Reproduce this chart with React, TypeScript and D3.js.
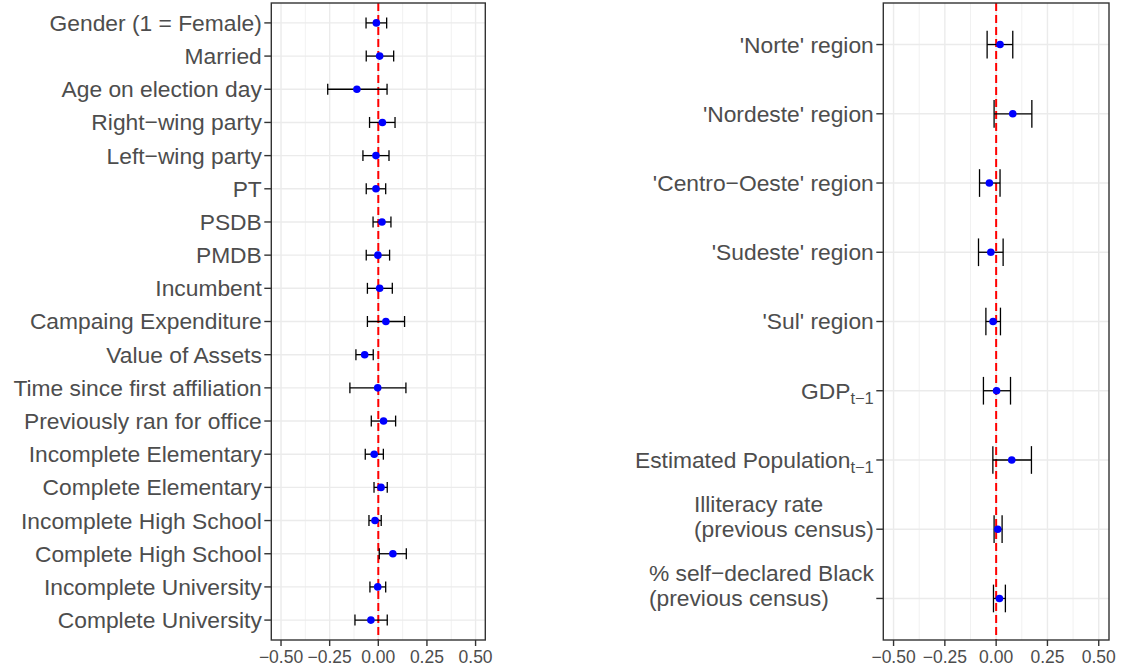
import React, { useRef, useEffect } from "react";
import * as d3 from "d3";

// ---------- data ----------
const leftLabels = [
  "Gender (1 = Female)",
  "Married",
  "Age on election day",
  "Right−wing party",
  "Left−wing party",
  "PT",
  "PSDB",
  "PMDB",
  "Incumbent",
  "Campaing Expenditure",
  "Value of Assets",
  "Time since first affiliation",
  "Previously ran for office",
  "Incomplete Elementary",
  "Complete Elementary",
  "Incomplete High School",
  "Complete High School",
  "Incomplete University",
  "Complete University",
];
const leftEst = [-0.01, 0.007, -0.11, 0.021, -0.012, -0.012, 0.019, -0.002, 0.007, 0.039, -0.07, -0.003, 0.027, -0.021, 0.014, -0.017, 0.075, -0.003, -0.038];
const leftLow = [-0.063, -0.062, -0.26, -0.045, -0.079, -0.062, -0.027, -0.062, -0.056, -0.056, -0.115, -0.146, -0.036, -0.067, -0.022, -0.048, 0.005, -0.043, -0.12];
const leftHigh = [0.043, 0.079, 0.045, 0.086, 0.055, 0.038, 0.065, 0.058, 0.072, 0.135, -0.026, 0.142, 0.089, 0.026, 0.046, 0.015, 0.144, 0.038, 0.046];

const rightLabels = [
  "'Norte' region",
  "'Nordeste' region",
  "'Centro−Oeste' region",
  "'Sudeste' region",
  "'Sul' region",
  "GDP_{t−1}",
  "Estimated Population_{t−1}",
  "Illiteracy rate\n(previous census)",
  "% self−declared Black\n(previous census)",
];
const rightEst = [0.019, 0.081, -0.033, -0.026, -0.015, 0.002, 0.076, 0.008, 0.016];
const rightLow = [-0.044, -0.01, -0.081, -0.086, -0.05, -0.062, -0.016, -0.01, -0.013];
const rightHigh = [0.081, 0.174, 0.019, 0.034, 0.021, 0.07, 0.172, 0.029, 0.045];

const xTicks = [-0.5, -0.25, 0, 0.25, 0.5];
const xTickLabels = ["−0.50", "−0.25", "0.00", "0.25", "0.50"];
const xMinor = [-0.375, -0.125, 0.125, 0.375];

// ---------- drawing ----------
const FONT = "'Liberation Sans', Arial, Helvetica, sans-serif";
const W = 1122;
const H = 669;

function drawPanel(
  g: d3.Selection<SVGGElement, unknown, null, undefined>,
  opts: {
    x0: number; x1: number; y0: number; y1: number;
    labels: string[]; est: number[]; low: number[]; high: number[]; capFrac: number;
  }
) {
  const { x0, x1, y0, y1, labels, est, low, high, capFrac } = opts;
  const x = d3.scaleLinear().domain([-0.55, 0.55]).range([x0, x1]);
  const y = d3.scalePoint<string>().domain(labels).range([y0, y1]).padding(0.6);
  const step = y.step();

  // background
  g.append("rect").attr("x", x0).attr("y", y0).attr("width", x1 - x0).attr("height", y1 - y0).attr("fill", "white");

  // minor grid
  g.selectAll(".minor").data(xMinor).enter().append("line")
    .attr("x1", (d) => x(d)).attr("x2", (d) => x(d)).attr("y1", y0).attr("y2", y1)
    .attr("stroke", "#EBEBEB").attr("stroke-width", 0.7);
  // major grid
  g.selectAll(".majorx").data(xTicks).enter().append("line")
    .attr("x1", (d) => x(d)).attr("x2", (d) => x(d)).attr("y1", y0).attr("y2", y1)
    .attr("stroke", "#EBEBEB").attr("stroke-width", 1.4);
  g.selectAll(".majory").data(labels).enter().append("line")
    .attr("x1", x0).attr("x2", x1).attr("y1", (d) => y(d)!).attr("y2", (d) => y(d)!)
    .attr("stroke", "#EBEBEB").attr("stroke-width", 1.4);

  // zero line
  g.append("line").attr("x1", x(0)).attr("x2", x(0)).attr("y1", y0).attr("y2", y1)
    .attr("stroke", "red").attr("stroke-width", 2).attr("stroke-dasharray", "8,4");

  const idx = labels.map((_, i) => i);
  // error bars
  const eb = g.selectAll(".eb").data(idx).enter().append("g");
  eb.append("line")
    .attr("x1", (i) => x(low[i])).attr("x2", (i) => x(high[i]))
    .attr("y1", (i) => y(labels[i])!).attr("y2", (i) => y(labels[i])!)
    .attr("stroke", "black").attr("stroke-width", 1.3);
  eb.append("line")
    .attr("x1", (i) => x(low[i])).attr("x2", (i) => x(low[i]))
    .attr("y1", (i) => y(labels[i])! - step * capFrac).attr("y2", (i) => y(labels[i])! + step * capFrac)
    .attr("stroke", "black").attr("stroke-width", 1.3);
  eb.append("line")
    .attr("x1", (i) => x(high[i])).attr("x2", (i) => x(high[i]))
    .attr("y1", (i) => y(labels[i])! - step * capFrac).attr("y2", (i) => y(labels[i])! + step * capFrac)
    .attr("stroke", "black").attr("stroke-width", 1.3);
  // points
  g.selectAll(".pt").data(idx).enter().append("circle")
    .attr("cx", (i) => x(est[i])).attr("cy", (i) => y(labels[i])!)
    .attr("r", 3.8).attr("fill", "blue");

  // border
  g.append("rect").attr("x", x0).attr("y", y0).attr("width", x1 - x0).attr("height", y1 - y0)
    .attr("fill", "none").attr("stroke", "#333333").attr("stroke-width", 1.4);

  // x ticks
  g.selectAll(".xt").data(xTicks).enter().append("line")
    .attr("x1", (d) => x(d)).attr("x2", (d) => x(d)).attr("y1", y1).attr("y2", y1 + 6)
    .attr("stroke", "#333333").attr("stroke-width", 1.4);
  g.selectAll(".xtl").data(xTicks).enter().append("text")
    .attr("x", (d) => x(d)).attr("y", y1 + 23)
    .attr("text-anchor", "middle").attr("font-family", FONT).attr("font-size", 17.5)
    .attr("fill", "#4D4D4D").text((d, i) => xTickLabels[i]);

  // y ticks
  g.selectAll(".yt").data(labels).enter().append("line")
    .attr("x1", x0 - 7).attr("x2", x0).attr("y1", (d) => y(d)!).attr("y2", (d) => y(d)!)
    .attr("stroke", "#333333").attr("stroke-width", 1.4);

  // y labels
  const labelX = x0 - 9.5;
  labels.forEach((lab) => {
    const ry = y(lab)!;
    const lines = lab.split("\n");
    const texts: d3.Selection<SVGTextElement, unknown, null, undefined>[] = [];
    lines.forEach((line, li) => {
      const t = g.append("text")
        .attr("x", labelX)
        .attr("y", ry - 25 * (lines.length - 1 - li))
        .attr("dy", "0.35em")
        .attr("text-anchor", "end")
        .attr("font-family", FONT).attr("font-size", 22.8).attr("fill", "#4D4D4D");
      const m = line.match(/^(.*)_\{(.*)\}$/);
      if (m) {
        t.append("tspan").text(m[1]);
        t.append("tspan").attr("font-size", 16.5).attr("dy", 5).text(m[2]);
      } else {
        t.text(line);
      }
      texts.push(t);
    });
    if (texts.length > 1) {
      const widths = texts.map((t) => (t.node() as SVGTextElement).getComputedTextLength());
      const maxW = Math.max(...widths);
      texts.forEach((t) => t.attr("text-anchor", "start").attr("x", labelX - maxW));
    }
  });
}

export default function App() {
  const ref = useRef<SVGSVGElement>(null);
  useEffect(() => {
    const svg = d3.select(ref.current!);
    svg.selectAll("*").remove();
    svg.append("rect").attr("width", W).attr("height", H).attr("fill", "white");
    const gl = svg.append("g");
    drawPanel(gl, {
      x0: 271.3, x1: 485.3, y0: 3, y1: 640,
      labels: leftLabels, est: leftEst, low: leftLow, high: leftHigh, capFrac: 0.165,
    });
    const gr = svg.append("g");
    drawPanel(gr, {
      x0: 883.3, x1: 1109, y0: 3, y1: 640,
      labels: rightLabels, est: rightEst, low: rightLow, high: rightHigh, capFrac: 0.2,
    });
  }, []);
  return (
    <svg
      ref={ref}
      width={W}
      height={H}
      style={{ position: "absolute", left: 0, top: 0, display: "block" }}
    />
  );
}
